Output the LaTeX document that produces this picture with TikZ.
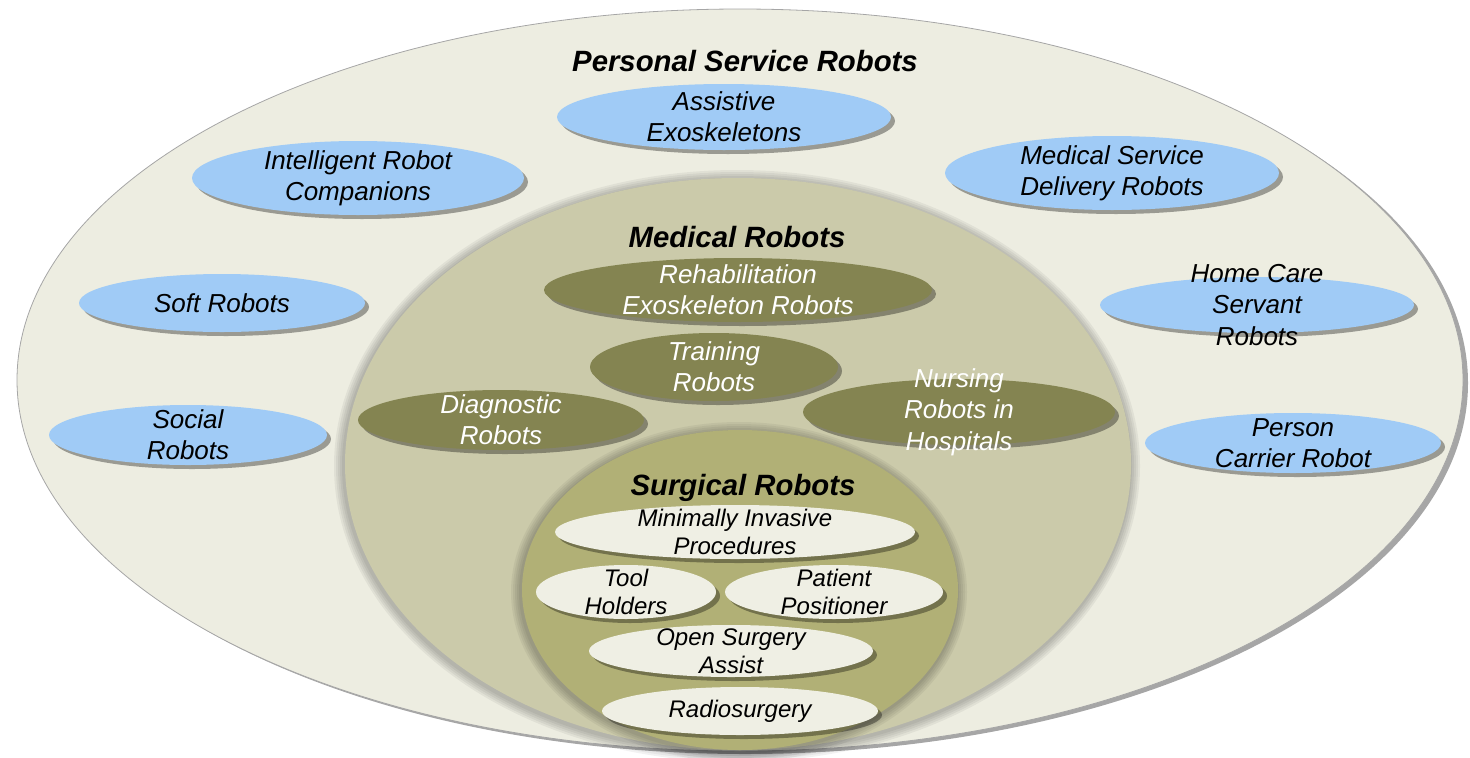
\documentclass[tikz,border=0pt]{standalone}
\usepackage{fontspec}
\setmainfont{Liberation Sans}
\usetikzlibrary{shapes.geometric,shadows}
\definecolor{outerfill}{HTML}{EDEDE1}
\definecolor{medfill}{HTML}{CBCAAA}
\definecolor{surgfill}{HTML}{B1B076}
\definecolor{bluefill}{HTML}{A0CBF6}
\definecolor{olivefill}{HTML}{848451}
\definecolor{creamfill}{HTML}{EFEFE4}
\tikzset{
  ell/.style={ellipse, inner sep=0pt, outer sep=0pt,
    drop shadow={shadow xshift=3pt, shadow yshift=-3pt, fill=black, opacity=0.35}},
  blueell/.style={ell, fill=bluefill},
  oliveell/.style={ell, fill=olivefill},
  creamell/.style={ell, fill=creamfill},
  bigell/.style={ellipse, inner sep=0pt, outer sep=0pt},
  glow/.style={ellipse, inner sep=0pt, fill=black, opacity=0.05},
  title/.style={font=\bfseries\itshape\fontsize{22}{26}\selectfont, text=black},
  darktext/.style={align=center, text=black, font=\itshape\fontsize{19.5}{23.5}\selectfont},
  lighttext/.style={align=center, text=white, font=\itshape\fontsize{19.5}{23.5}\selectfont},
  smalltext/.style={align=center, text=black, font=\itshape\fontsize{18}{21}\selectfont},
}
\newcommand\blob[8]{%
  \node[#6, minimum width=#4*1.5pt, minimum height=#5*1.5pt] (#1) at (#2,#3) {};
  \node[#7] (#1t) at (#1) {#8};}
\begin{document}
\begin{tikzpicture}[x=0.75pt, y=-0.75pt]
\useasboundingbox (0,0) rectangle (1470,757);
% outer ellipse
\node[bigell, minimum width=1446*0.75pt, minimum height=742*0.75pt, fill=black, opacity=0.35] (psrsh) at (745,383) {};
\node[bigell, minimum width=1446*0.75pt, minimum height=742*0.75pt, fill=outerfill, draw=gray!70, line width=0.6pt] (psr) at (740,380) {};
\node[title] (psrtitle) at (745,61) {Personal Service Robots};
% medical ellipse with glow
\foreach \k in {1,...,5}{
  \node[glow, minimum width={(786+\k*4)*0.75pt}, minimum height={(572+\k*4)*0.75pt}] at (737,466) {};}
\node[bigell, minimum width=786*0.75pt, minimum height=572*0.75pt, fill=medfill] (med) at (738,464) {};
\node[title] (medtitle) at (737,237) {Medical Robots};
% surgical ellipse with glow
\foreach \k in {1,...,5}{
  \node[glow, minimum width={(436+\k*4)*0.75pt}, minimum height={(320+\k*4)*0.75pt}] at (739,592) {};}
\node[bigell, minimum width=436*0.75pt, minimum height=320*0.75pt, fill=surgfill] (surg) at (740,590) {};
\node[title] (surgtitle) at (743,488) {Surgical Robots};
% blue ellipses
\blob{assist}{724}{117}{167}{33}{blueell}{darktext}{Assistive\\Exoskeletons}
\blob{companion}{358}{178}{166}{37}{blueell}{darktext}{Intelligent Robot\\Companions}
\blob{delivery}{1112}{173}{167}{37}{blueell}{darktext}{Medical Service\\Delivery Robots}
\blob{soft}{222}{303}{143}{29}{blueell}{darktext}{Soft Robots}
\blob{homecare}{1257}{305}{157}{28}{blueell}{darktext}{Home Care\\Servant\\Robots}
\blob{social}{188}{435}{139}{30}{blueell}{darktext}{Social\\Robots}
\blob{carrier}{1293}{443}{148}{30}{blueell}{darktext}{Person\\Carrier Robot}
% olive ellipses
\blob{rehab}{738}{290}{194}{32}{oliveell}{lighttext}{Rehabilitation\\Exoskeleton Robots}
\blob{training}{714}{367}{124}{34}{oliveell}{lighttext}{Training\\Robots}
\blob{diag}{501}{420}{143}{30}{oliveell}{lighttext}{Diagnostic\\Robots}
\blob{nursing}{959}{412}{156}{33}{oliveell}{lighttext}{Nursing\\Robots in\\Hospitals}
% cream ellipses
\blob{mip}{735}{532}{180}{27}{creamell}{smalltext}{Minimally Invasive\\Procedures}
\blob{tool}{626}{592}{90}{27}{creamell}{smalltext}{Tool\\Holders}
\blob{patient}{834}{592}{109}{27}{creamell}{smalltext}{Patient\\Positioner}
\blob{open}{731}{651}{142}{26}{creamell}{smalltext}{Open Surgery\\Assist}
\blob{radio}{740}{711}{138}{24}{creamell}{smalltext}{Radiosurgery}
\end{tikzpicture}
\end{document}
